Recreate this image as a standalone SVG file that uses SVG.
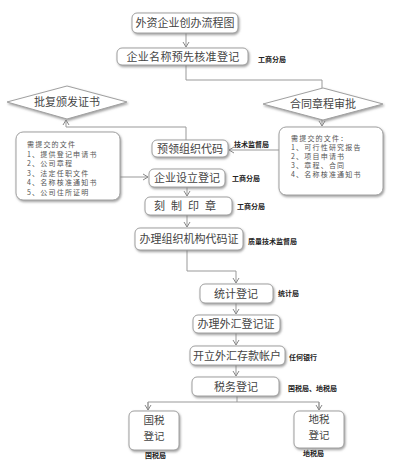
<svg xmlns="http://www.w3.org/2000/svg" width="400" height="470" viewBox="0 0 400 470">
<defs>
<filter id="sh" x="-10%" y="-10%" width="130%" height="140%">
<feDropShadow dx="1" dy="1.5" stdDeviation="0.8" flood-color="#777" flood-opacity="0.7"/>
</filter>
<marker id="ar" markerWidth="8" markerHeight="8" refX="6" refY="4" orient="auto" markerUnits="userSpaceOnUse">
<path d="M1,1 L6,4 L1,7" fill="none" stroke="#888" stroke-width="1"/>
</marker>
</defs>
<style>
.box{fill:#fff;stroke:#a0a0a0;stroke-width:1;filter:url(#sh)}
.t{font-family:"Noto Sans CJK SC","Noto Sans",sans-serif;font-size:11px;fill:#444;text-anchor:middle}
.t2{font-family:"Noto Sans CJK SC","Noto Sans",sans-serif;font-size:10.5px;fill:#444;text-anchor:middle}
.n{font-family:"Noto Sans CJK SC","Noto Sans",sans-serif;font-size:7px;letter-spacing:1.2px;fill:#555}
.lb{font-family:"Noto Sans CJK SC","Noto Sans",sans-serif;font-size:7px;font-weight:bold;fill:#222}
.c{fill:none;stroke:#999;stroke-width:1}
</style>
<rect width="400" height="470" fill="#fff"/>
<g id="connectors">
<path class="c" d="M186,33 V47" marker-end="url(#ar)"/>
<path class="c" d="M186,65 V80 H322 V88"/>
<path class="c" d="M322,120 V126" marker-end="url(#ar)"/>
<path class="c" d="M186,140 V127 H66 V120" marker-end="url(#ar)"/>
<path class="c" d="M279,150 H229" marker-end="url(#ar)"/>
<path class="c" d="M120,177 H148" marker-end="url(#ar)"/>
<path class="c" d="M187,187 V196" marker-end="url(#ar)"/>
<path class="c" d="M187,215 V227" marker-end="url(#ar)"/>
<path class="c" d="M187,250 V271 H236 V283" marker-end="url(#ar)"/>
<path class="c" d="M236,303 V314" marker-end="url(#ar)"/>
<path class="c" d="M236,333 V345" marker-end="url(#ar)"/>
<path class="c" d="M236,365 V376" marker-end="url(#ar)"/>
<path class="c" d="M237,396 V402"/>
<path class="c" d="M148,410 V402 H319 V410"/>
<path class="c" d="M148,402 V410" marker-end="url(#ar)"/>
<path class="c" d="M319,402 V410" marker-end="url(#ar)"/>
</g>
<g id="title">
<rect class="box" x="132" y="13" width="106" height="20" rx="5"/>
<text class="t" x="185" y="27">外资企业创办流程图</text>
</g>
<g id="name-approval">
<rect class="box" x="117" y="48" width="131" height="17" rx="5"/>
<text class="t" x="183" y="61" letter-spacing="0.3">企业名称预先核准登记</text>
<text class="lb" x="258" y="62">工商分局</text>
</g>
<g id="approve-cert">
<polygon class="box" points="7,102 67,86 127,102 67,119"/>
<text class="t" x="67" y="106">批复颁发证书</text>
</g>
<g id="contract-approval">
<polygon class="box" points="263,104 323,88 383,104 323,120"/>
<text class="t" x="323" y="108">合同章程审批</text>
</g>
<g id="docs-left">
<rect class="box" x="16" y="132" width="104" height="68" rx="7"/>
<text class="n" x="27" y="147">需提交的文件</text>
<text class="n" x="27" y="156.5">1、提供登记申请书</text>
<text class="n" x="27" y="166">2、公司章程</text>
<text class="n" x="27" y="175.5">3、法定任职文件</text>
<text class="n" x="27" y="185">4、名称核准通知书</text>
<text class="n" x="27" y="194.5">5、公司住所证明</text>
</g>
<g id="docs-right">
<rect class="box" x="279" y="127" width="104" height="68" rx="7"/>
<text class="n" x="291" y="141">需提交的文件：</text>
<text class="n" x="291" y="150">1、可行性研究报告</text>
<text class="n" x="291" y="159">2、项目申请书</text>
<text class="n" x="291" y="168">3、章程、合同</text>
<text class="n" x="291" y="177">4、名称核准通知书</text>
</g>
<g id="pre-code">
<rect class="box" x="152" y="140" width="76" height="17" rx="5"/>
<text class="t" x="190" y="153">预领组织代码</text>
<text class="lb" x="234" y="147">技术监督局</text>
</g>
<g id="establish">
<rect class="box" x="149" y="169" width="76" height="18" rx="5"/>
<text class="t" x="187" y="182">企业设立登记</text>
<text class="lb" x="232" y="181">工商分局</text>
</g>
<g id="seal">
<rect class="box" x="145" y="197" width="87" height="18" rx="5"/>
<text class="t" x="188" y="210" letter-spacing="6">刻制印章</text>
<text class="lb" x="237" y="209">工商分局</text>
</g>
<g id="org-code">
<rect class="box" x="135" y="228" width="108" height="22" rx="5"/>
<text class="t" x="189" y="243">办理组织机构代码证</text>
<text class="lb" x="248" y="244">质量技术监督局</text>
</g>
<g id="stats">
<rect class="box" x="200" y="284" width="73" height="19" rx="5"/>
<text class="t" x="236" y="298">统计登记</text>
<text class="lb" x="278" y="296">统计局</text>
</g>
<g id="forex-reg">
<rect class="box" x="193" y="315" width="87" height="18" rx="5"/>
<text class="t" x="236" y="328">办理外汇登记证</text>
</g>
<g id="forex-account">
<rect class="box" x="190" y="346" width="95" height="19" rx="5"/>
<text class="t" x="237" y="360">开立外汇存款帐户</text>
<text class="lb" x="289" y="360">任何银行</text>
</g>
<g id="tax">
<rect class="box" x="192" y="377" width="87" height="19" rx="5"/>
<text class="t" x="236" y="391">税务登记</text>
<text class="lb" x="288" y="391">国税局、地税局</text>
</g>
<g id="national-tax">
<rect class="box" x="129" y="411" width="50" height="39" rx="5"/>
<text class="t2" x="154" y="424">国税</text>
<text class="t2" x="154" y="440">登记</text>
<text class="lb" x="145" y="458">国税局</text>
</g>
<g id="local-tax">
<rect class="box" x="294" y="411" width="50" height="37" rx="5"/>
<text class="t2" x="319" y="423">地税</text>
<text class="t2" x="319" y="439">登记</text>
<text class="lb" x="303" y="456">地税局</text>
</g>
</svg>
